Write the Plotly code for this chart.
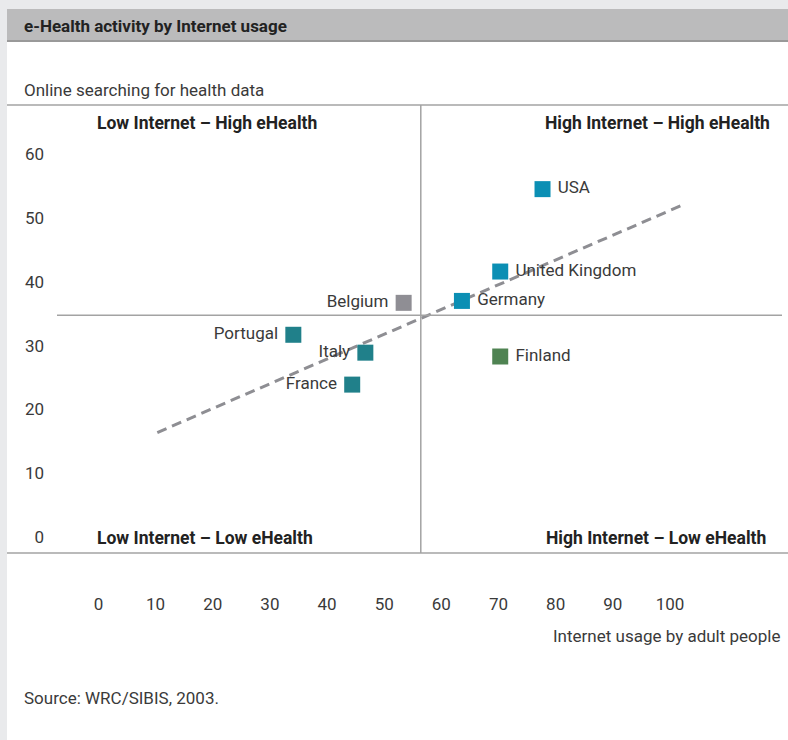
import plotly.graph_objects as go

# Data
countries = ['USA', 'United Kingdom', 'Germany', 'Finland',
             'Belgium', 'Portugal', 'Italy', 'France']
internet = [77.7, 70.3, 63.6, 70.3, 53.4, 34.1, 46.7, 44.4]
ehealth = [54.5, 41.6, 37.0, 28.3, 36.7, 31.7, 28.9, 23.9]
colors = ['#0b8fb4', '#0b8fb4', '#0b8fb4', '#4f8352',
          '#8f8e94', '#20808a', '#20808a', '#20808a']
label_pos = ['middle right', 'middle right', 'middle right', 'middle right',
             'middle left', 'middle left', 'middle left', 'middle left']

trend_x = [10.3, 101.9]
trend_y = [16.4, 51.9]

avg_internet = 56.4
avg_ehealth = 34.75

x_ticks = [0, 10, 20, 30, 40, 50, 60, 70, 80, 90, 100]
y_ticks = [0, 10, 20, 30, 40, 50, 60]

FONT = 'Roboto'
TXT = '#3a3a3a'
LINE = '#a3a3a3'

# plot area in page pixels
PL, PR, PT, PB = 57, 782, 105, 553


def px(x):
    return (x - PL) / (PR - PL)


def py(y):
    return (PB - y) / (PB - PT)


# small gap between marker and its label
labels = ['\u00a0' + c if p.endswith('right') else c + '\u00a0'
          for c, p in zip(countries, label_pos)]

fig = go.Figure()

fig.add_trace(go.Scatter(x=trend_x, y=trend_y, mode='lines',
                         line=dict(color='#8e8e93', width=3, dash='10px,6px'),
                         hoverinfo='skip'))

fig.add_trace(go.Scatter(x=internet, y=ehealth, mode='markers+text',
                         text=labels, textposition=label_pos,
                         textfont=dict(family=FONT, size=17, color=TXT),
                         marker=dict(symbol='square', size=16, color=colors),
                         hoverinfo='skip'))

shapes = [
    # white panel
    dict(type='rect', xref='paper', yref='paper', x0=px(7), x1=px(788),
         y0=py(41), y1=py(740), fillcolor='white', line_width=0, layer='below'),
    # header band
    dict(type='rect', xref='paper', yref='paper', x0=px(7), x1=px(788),
         y0=py(9), y1=py(41), fillcolor='#bbbbbc', line_width=0, layer='below'),
    dict(type='line', xref='paper', yref='paper', x0=px(7), x1=px(788),
         y0=py(41), y1=py(41), line=dict(color='#999999', width=2)),
    # frame lines
    dict(type='line', xref='paper', yref='paper', x0=px(7), x1=px(788),
         y0=py(105), y1=py(105), line=dict(color=LINE, width=1.5)),
    dict(type='line', xref='paper', yref='paper', x0=px(7), x1=px(788),
         y0=py(553), y1=py(553), line=dict(color=LINE, width=1.5)),
    # quadrant dividers
    dict(type='line', xref='x', yref='paper', x0=avg_internet, x1=avg_internet,
         y0=0, y1=1, line=dict(color=LINE, width=1.5)),
    dict(type='line', xref='paper', yref='y', x0=0, x1=1,
         y0=avg_ehealth, y1=avg_ehealth, line=dict(color=LINE, width=1.5)),
]

annotations = [
    dict(text='<b>e-Health activity by Internet usage</b>', x=px(22), y=py(26),
         xanchor='left', font=dict(size=17, color='#222222')),
    dict(text='Online searching for health data', x=px(22), y=py(90),
         xanchor='left', font=dict(size=17, color=TXT)),
    dict(text='<b>Low Internet – High eHealth</b>', x=px(95), y=py(123),
         xanchor='left', font=dict(size=17.5, color='#222222')),
    dict(text='<b>High Internet – High eHealth</b>', x=px(772), y=py(123),
         xanchor='right', font=dict(size=17.5, color='#222222')),
    dict(text='<b>Low Internet – Low eHealth</b>', x=px(95), y=py(538),
         xanchor='left', font=dict(size=17.5, color='#222222')),
    dict(text='<b>High Internet – Low eHealth</b>', x=px(768), y=py(538),
         xanchor='right', font=dict(size=17.5, color='#222222')),
    dict(text='Internet usage by adult people', x=px(782), y=py(636),
         xanchor='right', font=dict(size=17, color=TXT)),
    dict(text='Source: WRC/SIBIS, 2003.', x=px(22), y=py(698),
         xanchor='left', font=dict(size=17, color=TXT)),
]
for a in annotations:
    a.update(xref='paper', yref='paper', yanchor='middle', showarrow=False)

fig.update_layout(width=788, height=740, autosize=False,
                  margin=dict(l=PL, r=788 - PR, t=PT, b=740 - PB),
                  paper_bgcolor='#e9eaec', plot_bgcolor='white',
                  font=dict(family=FONT, size=17, color=TXT),
                  showlegend=False, shapes=shapes, annotations=annotations)

fig.update_xaxes(range=[-7.25, 119.6], tickvals=x_ticks, showgrid=False,
                 zeroline=False, showline=False, ticks='', ticklabelstandoff=39,
                 tickfont=dict(size=17, color=TXT))
fig.update_yaxes(range=[-2.46, 67.67], tickvals=y_ticks, showgrid=False,
                 zeroline=False, showline=False, ticks='', ticklabelstandoff=12,
                 tickfont=dict(size=17, color=TXT))

# drop the default page margin so the figure sits at the window's top-left
fig.write_html('out.html', config={'displayModeBar': False},
               post_script="document.body.style.margin='0';"
                           "document.body.style.background='#e9eaec';")
